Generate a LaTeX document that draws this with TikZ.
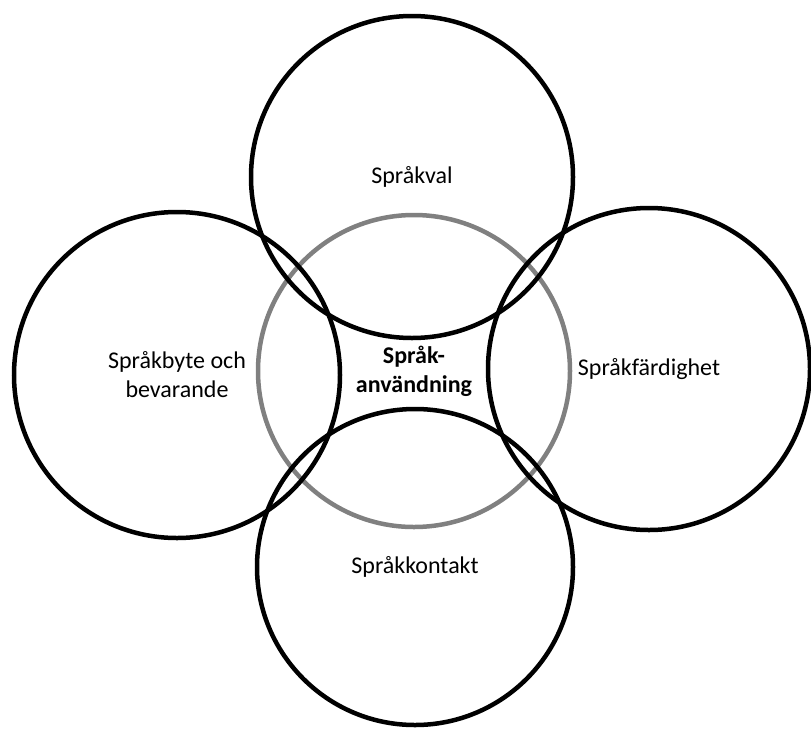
\documentclass[tikz,border=0pt]{standalone}
\usepackage{fontspec}
\setmainfont{Carlito}
\usepackage{xcolor}
\usepackage{tikz}

\definecolor{ringgray}{RGB}{128,128,128}

\begin{document}
\begin{tikzpicture}[x=1pt,y=-1pt,
  font=\fontsize{24}{29}\selectfont,
  ring/.style={draw,circle,line width=4.5pt,minimum size=#1,inner sep=0pt,align=center},
  ring/.default=324pt,
  core/.style={ring=312pt,draw=ringgray,font=\fontsize{24}{29}\selectfont\bfseries}]
\useasboundingbox (0,0) rectangle (811,729);
% centre ring
\node[core] (anv) at (414,371) {Språk-\\användning};
% outer rings
\node[ring=322pt] (val) at (412,177) {Språkval};
\node[ring=326pt] (byte) at (177,375) {Språkbyte och\\bevarande};
\node[ring=322pt] (fard) at (649,369) {Språkfärdighet};
\node[ring=316pt] (kont) at (415,567) {Språkkontakt};
\end{tikzpicture}
\end{document}
